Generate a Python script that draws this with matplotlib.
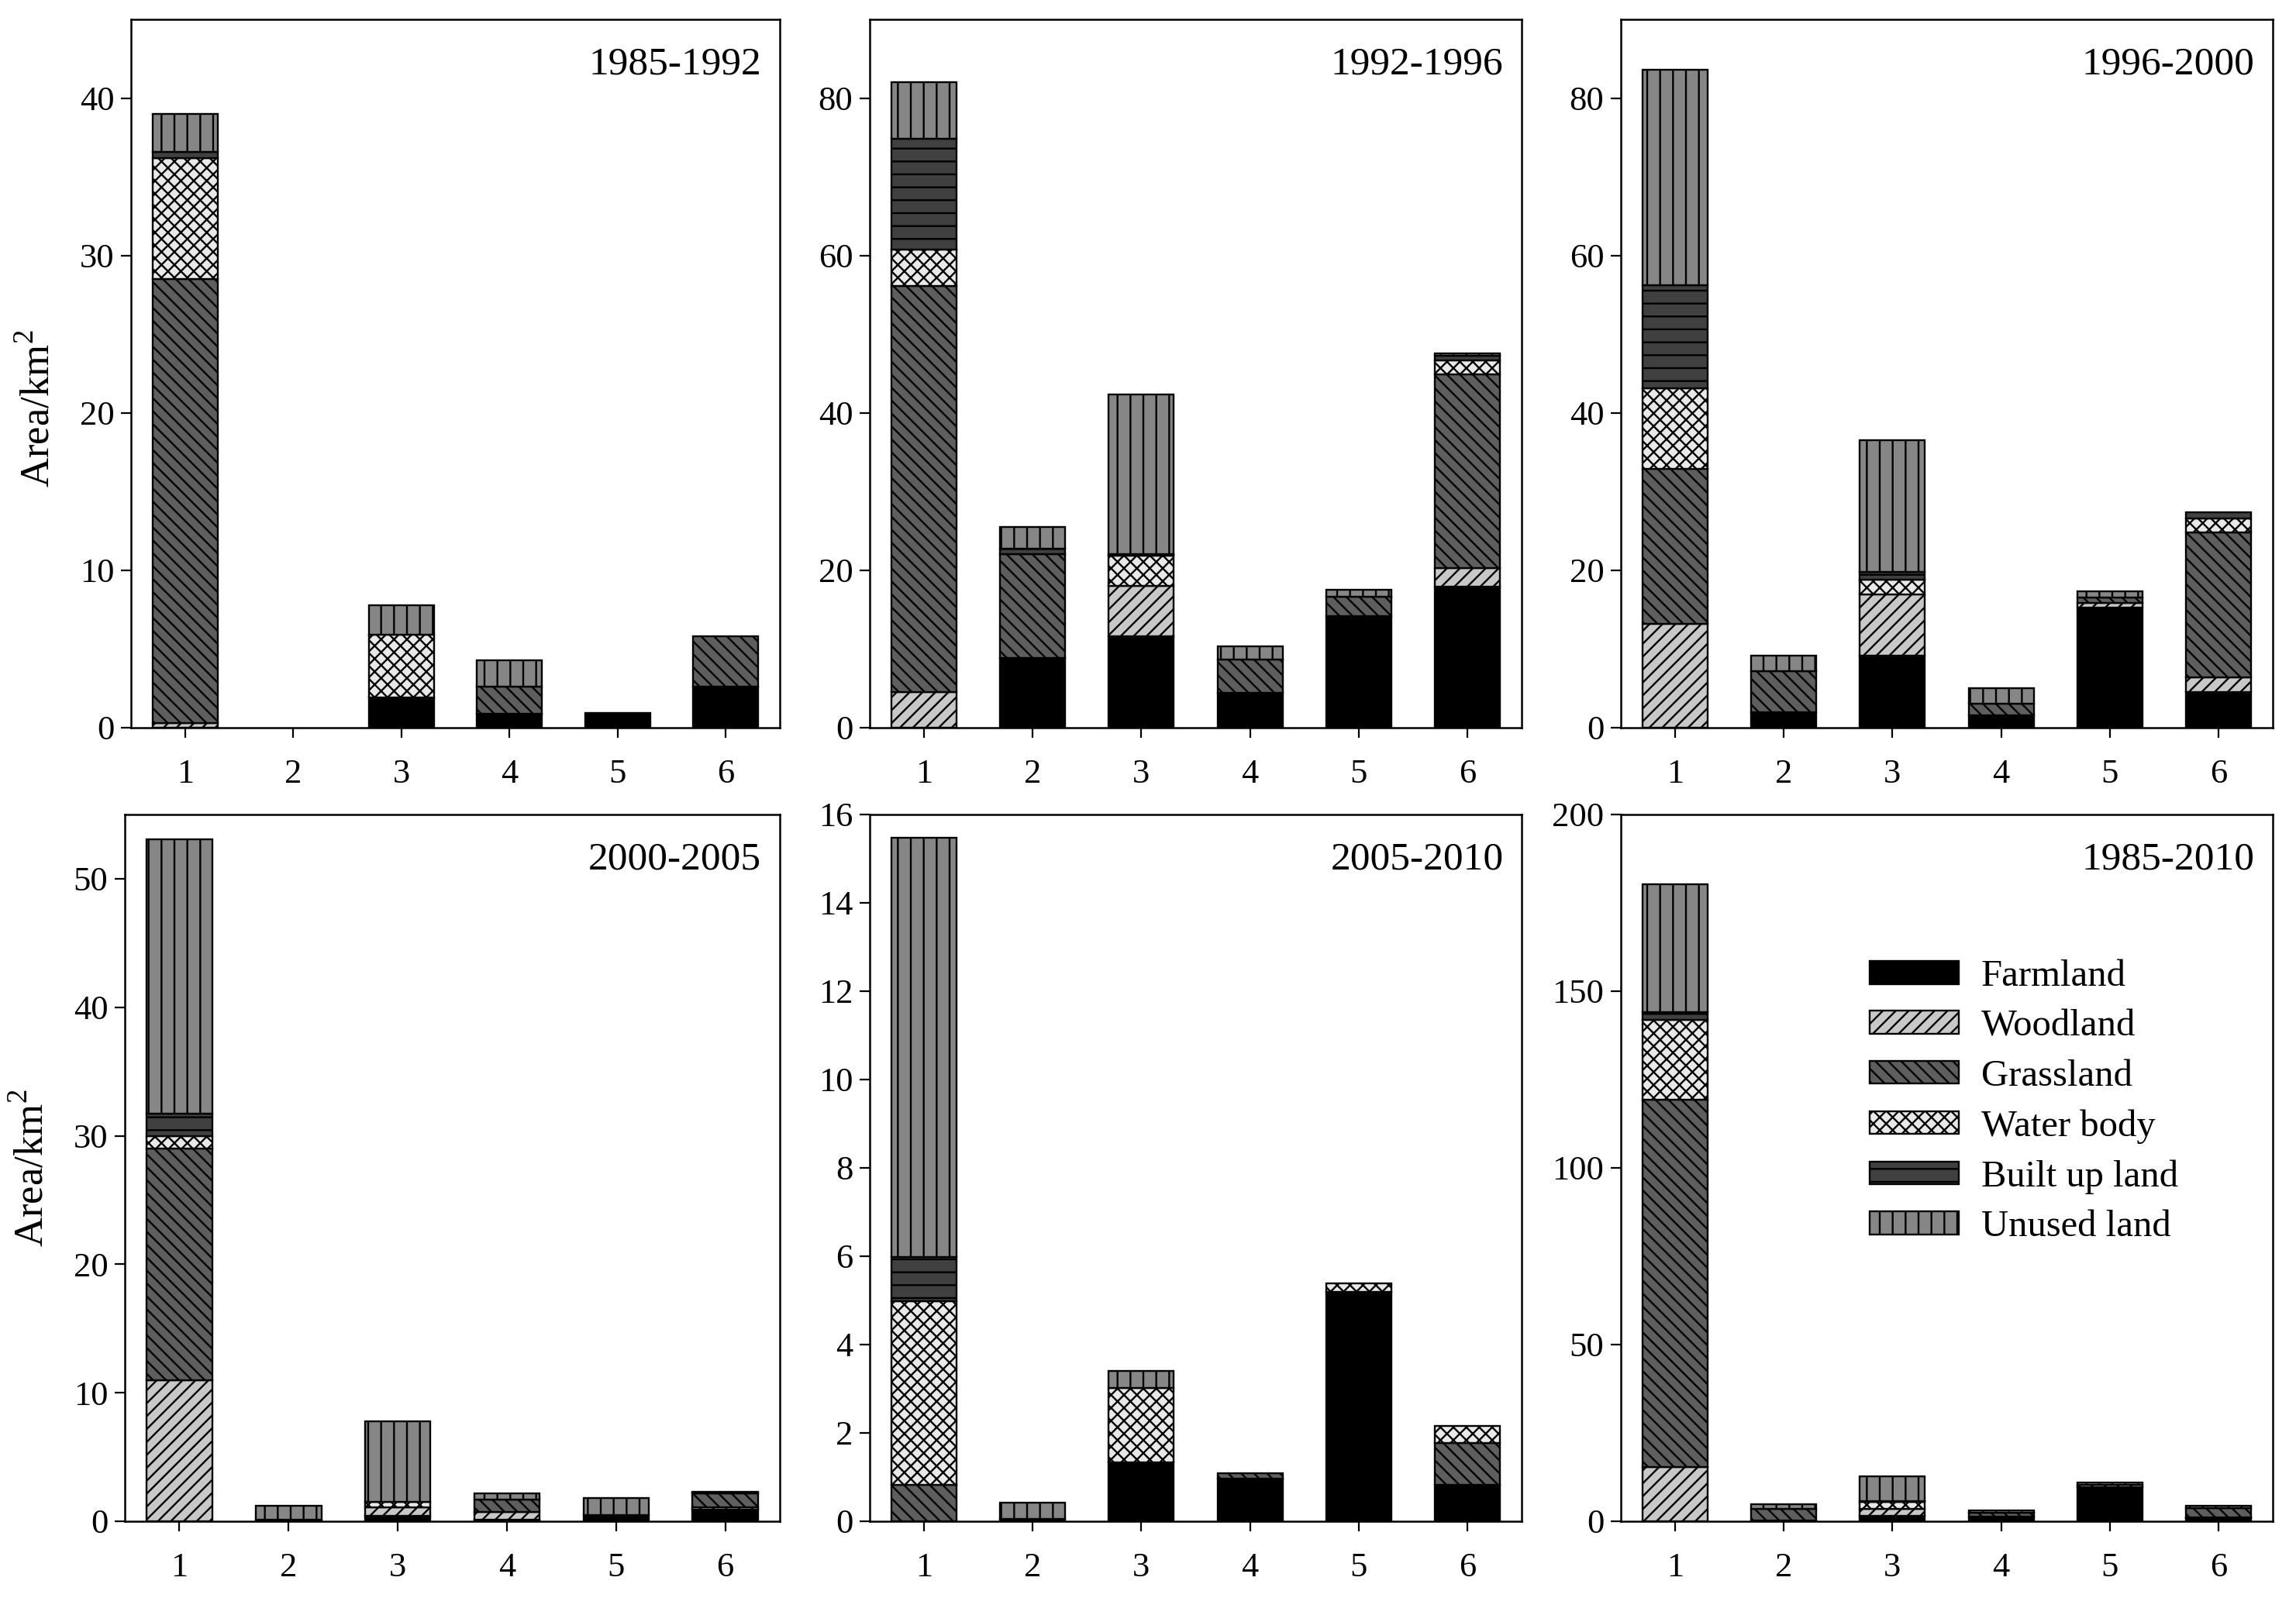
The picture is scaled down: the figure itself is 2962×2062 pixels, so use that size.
import numpy as np
import matplotlib
matplotlib.use('Agg')
import matplotlib.pyplot as plt

plt.rcParams['font.family'] = ['Liberation Serif', 'DejaVu Serif']
plt.rcParams['mathtext.fontset'] = 'custom'
plt.rcParams['mathtext.rm'] = 'Liberation Serif'
plt.rcParams['hatch.linewidth'] = 1.7

# land types, bottom to top of each stack
land_types = ['Farmland', 'Woodland', 'Grassland', 'Water body', 'Built up land', 'Unused land']
classes = [1, 2, 3, 4, 5, 6]

# rows follow land_types, columns follow classes (km2)
v_1985_1992 = [[0, 0, 1.9, 0.9, 0.95, 2.6],
               [0.3, 0, 0, 0, 0, 0],
               [28.2, 0, 0, 1.7, 0, 3.2],
               [7.7, 0, 4.0, 0, 0, 0],
               [0.4, 0, 0, 0, 0, 0],
               [2.4, 0, 1.9, 1.7, 0, 0]]
v_1992_1996 = [[0, 8.9, 11.6, 4.4, 14.2, 17.9],
               [4.5, 0, 6.4, 0, 0, 2.4],
               [51.6, 13.2, 0, 4.3, 2.4, 24.6],
               [4.7, 0, 3.9, 0, 0, 1.8],
               [14.0, 0.6, 0.2, 0, 0, 0.6],
               [7.2, 2.8, 20.2, 1.6, 0.9, 0.3]]
v_1996_2000 = [[0, 2.0, 9.2, 1.6, 15.3, 4.5],
               [13.2, 0, 7.7, 0, 0.6, 1.9],
               [19.7, 5.2, 0, 1.5, 0.6, 18.4],
               [10.2, 0, 1.9, 0, 0, 1.8],
               [13.1, 0, 1.0, 0, 0, 0.8],
               [27.4, 2.0, 16.7, 1.9, 0.8, 0]]
v_2000_2005 = [[0, 0.1, 0.4, 0.1, 0.5, 0.9],
               [11.0, 0, 0.7, 0.6, 0, 0.2],
               [18.0, 0, 0, 1.0, 0, 1.1],
               [1.0, 0, 0.4, 0, 0, 0],
               [1.7, 0, 0, 0, 0, 0],
               [21.4, 1.1, 6.3, 0.5, 1.3, 0.1]]
v_2005_2010 = [[0, 0.05, 1.33, 0.97, 5.19, 0.83],
               [0, 0, 0, 0, 0, 0],
               [0.82, 0, 0, 0.12, 0, 0.94],
               [4.16, 0, 1.69, 0, 0.2, 0.39],
               [1.0, 0, 0, 0, 0, 0],
               [9.5, 0.37, 0.39, 0, 0, 0]]
v_1985_2010 = [[0, 0.3, 1.5, 1.3, 9.6, 0.8],
               [15.4, 0, 2.1, 0, 0.6, 0.3],
               [104.0, 3.3, 0, 1.2, 0, 2.6],
               [22.4, 0, 1.9, 0, 0, 0],
               [2.2, 0, 0.3, 0, 0, 0],
               [36.3, 1.2, 7.0, 0.6, 0.8, 0.7]]

periods = ['1985-1992', '1992-1996', '1996-2000', '2000-2005', '2005-2010', '1985-2010']
tables = [v_1985_1992, v_1992_1996, v_1996_2000, v_2000_2005, v_2005_2010, v_1985_2010]
y_max = [45, 90, 90, 55, 16, 200]
y_step = [10, 20, 20, 10, 2, 50]

colors = ['#000000', '#c8c8c8', '#5e5e5e', '#e8e8e8', '#404040', '#868686']
hatches = [None, '//', '\\\\', 'xx', '-', '|']

W, H = 2962, 2062
# axes boxes in pixels: left, top, right, bottom
boxes = [(169, 25, 1006, 939), (1122, 25, 1963, 939), (2091, 25, 2932, 939),
         (161, 1051, 1006, 1963), (1122, 1051, 1963, 1963), (2091, 1051, 2932, 1963)]
ylabel_y = {0: 0.45, 3: 0.5}

fig = plt.figure(figsize=(W / 100, H / 100), dpi=100)

for i, (period, table) in enumerate(zip(periods, tables)):
    l, t, r, b = boxes[i]
    ax = fig.add_axes([l / W, 1 - b / H, (r - l) / W, (b - t) / H])
    data = np.array(table, dtype=float)
    x = np.array(classes)
    bottom = np.zeros(len(classes))
    for k, name in enumerate(land_types):
        vals = data[k]
        keep = vals > 0
        ax.bar(x[keep], vals[keep], width=0.6, bottom=bottom[keep], color=colors[k],
               edgecolor='black', linewidth=1.7, hatch=hatches[k], label=name)
        bottom += vals
    ax.set_xlim(0.5, 6.5)
    ax.set_ylim(0, y_max[i])
    ax.set_xticks(classes)
    ax.set_yticks(np.arange(0, y_max[i] + 0.01, y_step[i]))
    ax.tick_params(axis='both', direction='out', length=9.5, width=1.6, labelsize=32)
    ax.tick_params(axis='x', pad=19)
    ax.tick_params(axis='y', pad=6)
    for s in ax.spines.values():
        s.set_linewidth(1.8)
    ax.text(0.972, 0.936, period, transform=ax.transAxes, ha='right', va='center', fontsize=37)
    if i in ylabel_y:
        ax.set_ylabel('Area/km$^2$', fontsize=38)
        ax.yaxis.set_label_coords(-0.113, ylabel_y[i])
    if i == 5:
        ax.legend(loc='upper left', bbox_to_anchor=(0.33, 0.843), frameon=False, fontsize=35,
                  handlelength=2.35, handleheight=0.56, labelspacing=0.42, handletextpad=0.6)

fig.savefig('out.png', dpi=100)
